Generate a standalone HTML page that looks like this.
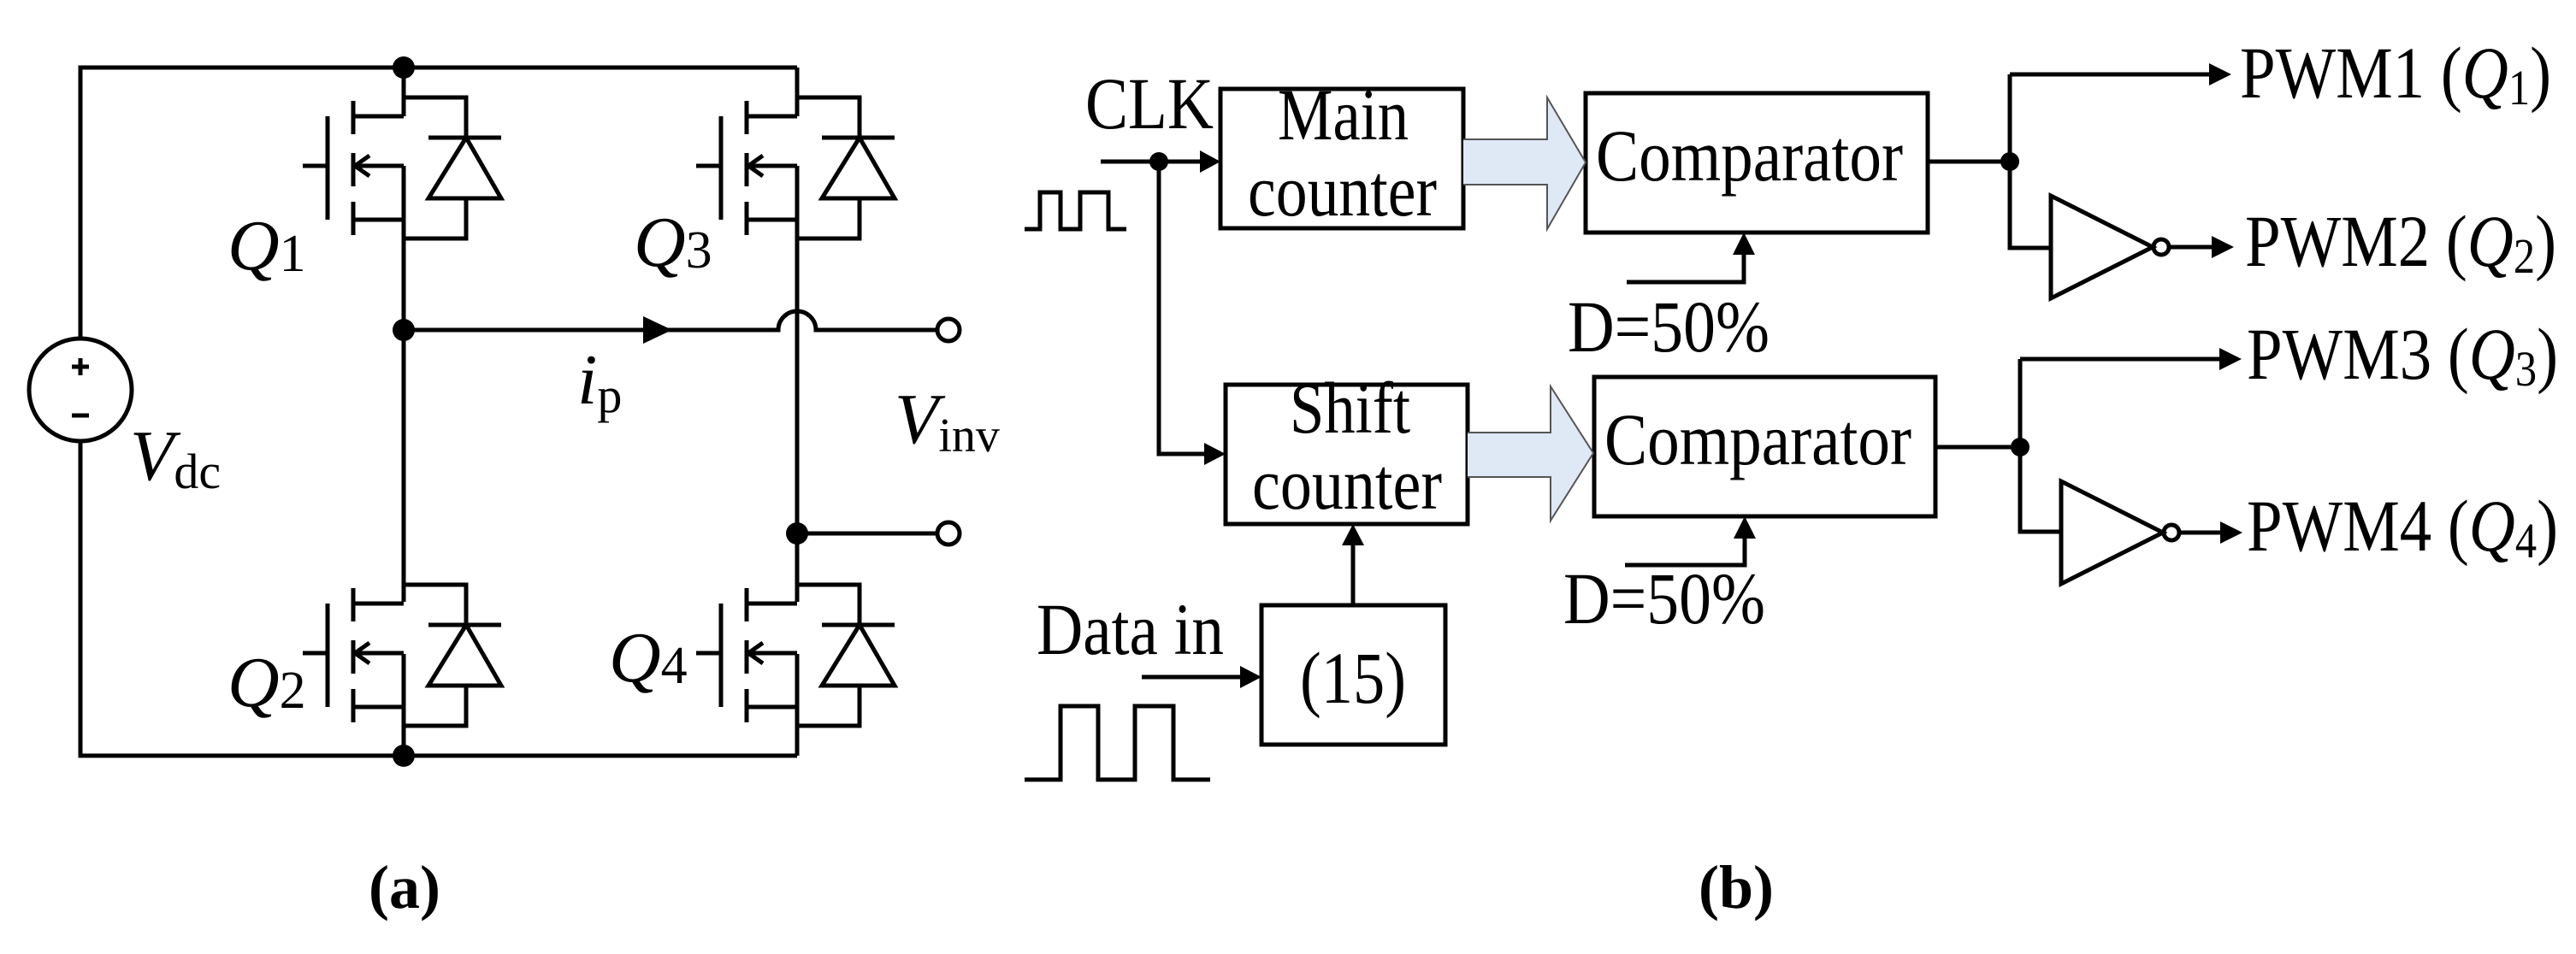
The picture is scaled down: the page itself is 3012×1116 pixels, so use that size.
<!DOCTYPE html>
<html><head><meta charset="utf-8"><style>
html,body{margin:0;padding:0;background:#fff}
svg{display:block}
text{font-family:"Liberation Serif",serif;fill:#000}
</style></head><body>
<svg width="3012" height="1116" viewBox="0 0 3012 1116" xmlns="http://www.w3.org/2000/svg">
<defs>
<g id="tr" fill="none" stroke="#000" stroke-width="5">
  <path d="M472,114 H545 V161 M501,161 H586 M545,232 V279 H472"/>
  <path d="M545,161 L501,232 H586 Z"/>
  <path d="M413,136 H472 M413,194 H472 M413,257 H472"/>
  <path d="M413,118 V157 M413,179 V218 M413,236 V275"/>
  <path d="M383,136 V257 M354,194 H383"/>
  <path d="M432,182 L415,194 L432,206"/>
</g>
</defs>
<g fill="none" stroke="#000" stroke-width="5">
  <path d="M94,396 V79 H932 M94,516 V884 H932"/>
  <circle cx="94" cy="456" r="60"/>
  <path d="M84,429 H104 M94,419 V439 M84,486 H104"/>
  <path d="M472,79 V136 M472,194 V704 M472,765 V884"/>
  <path d="M932,79 V136 M932,194 V704 M932,765 V884"/>
  <path d="M472,386 H910 A22,22 0 0 1 954,386 H1096"/>
  <circle cx="1109" cy="386" r="13"/>
  <path d="M932,624 H1096"/>
  <circle cx="1109" cy="624" r="13"/>
</g>
<path d="M752,370 L786,386 L752,402 Z" fill="#000"/>
<use href="#tr"/>
<use href="#tr" transform="translate(0,570)"/>
<use href="#tr" transform="translate(460,0)"/>
<use href="#tr" transform="translate(460,570)"/>
<g fill="#000">
  <circle cx="472" cy="79" r="13"/><circle cx="472" cy="386" r="13"/>
  <circle cx="472" cy="884" r="13"/><circle cx="932" cy="624" r="13"/>
</g>
<g font-size="84" font-style="italic">
  <text x="266" y="315">Q<tspan font-style="normal" font-size="62" dy="2">1</tspan></text>
  <text x="741" y="311">Q<tspan font-style="normal" font-size="62" dy="2">3</tspan></text>
  <text x="266" y="826">Q<tspan font-style="normal" font-size="62" dy="2">2</tspan></text>
  <text x="712" y="797">Q<tspan font-style="normal" font-size="62" dy="2">4</tspan></text>
  <text x="152" y="561">V<tspan font-style="normal" font-size="58" dy="10">dc</tspan></text>
  <text x="675" y="472">i<tspan font-style="normal" font-size="58" dy="10">p</tspan></text>
  <text x="1046" y="518">V<tspan font-style="normal" font-size="56" dy="10">inv</tspan></text>
</g>
<text x="431" y="1062" font-size="72" font-weight="bold">(a)</text>

<g fill="none" stroke="#000" stroke-width="5">
  <rect x="1427" y="104" width="284" height="163"/>
  <rect x="1854" y="109" width="400" height="163"/>
  <rect x="1433" y="450" width="283" height="163"/>
  <rect x="1864" y="441" width="399" height="163"/>
  <rect x="1475" y="708" width="215" height="163"/>
  <path d="M1287,189 H1405 M1355,189 V531 H1410"/>
  <path d="M1198,268 H1216 V225 H1240 V268 H1263 V225 H1296 V268 H1317"/>
  <path d="M1198,912 H1240 V826 H1284 V912 H1327 V826 H1372 V912 H1415"/>
  <path d="M1335,792 H1452 M1582,708 V636"/>
  <path d="M1902,330 H2039 V296 M1900,661 H2040 V628"/>
  <path d="M2254,189 H2350 M2350,87 V290 H2398 M2350,87 H2585"/>
  <path d="M2398,229 V349 L2517,289 Z"/>
  <circle cx="2527" cy="289" r="9"/>
  <path d="M2536,289 H2588"/>
  <path d="M2263,523 H2362 M2362,420 V622 H2410 M2362,420 H2597"/>
  <path d="M2410,563 V683 L2529,623 Z"/>
  <circle cx="2539" cy="623" r="9"/>
  <path d="M2548,623 H2598"/>
</g>
<g fill="#dfe8f5" stroke="#555" stroke-width="2">
  <path d="M1711,163 H1809 V114 L1854,190 L1809,268 V216 H1711"/>
  <path d="M1716,506 H1813 V452 L1863,530 L1813,609 V558 H1716"/>
</g>
<g fill="#000">
  <circle cx="1355" cy="189" r="11"/>
  <circle cx="2350" cy="189" r="11"/>
  <circle cx="2362" cy="523" r="11"/>
  <path d="M1403,176 L1427,189 L1403,202 Z"/>
  <path d="M1408,518 L1433,531 L1408,544 Z"/>
  <path d="M1450,779 L1475,792 L1450,805 Z"/>
  <path d="M1569,638 L1582,613 L1595,638 Z"/>
  <path d="M2026,298 L2039,272 L2052,298 Z"/>
  <path d="M2027,630 L2040,604 L2053,630 Z"/>
  <path d="M2583,74 L2609,87 L2583,100 Z"/>
  <path d="M2586,276 L2612,289 L2586,302 Z"/>
  <path d="M2595,407 L2621,420 L2595,433 Z"/>
  <path d="M2596,610 L2622,623 L2596,636 Z"/>
</g>
<g font-size="86">
  <text x="1494" y="163" textLength="153" lengthAdjust="spacingAndGlyphs">Main</text>
  <text x="1459" y="252" textLength="221" lengthAdjust="spacingAndGlyphs">counter</text>
  <text x="1866" y="211" textLength="359" lengthAdjust="spacingAndGlyphs">Comparator</text>
  <text x="1508" y="506" textLength="141" lengthAdjust="spacingAndGlyphs">Shift</text>
  <text x="1464" y="595" textLength="222" lengthAdjust="spacingAndGlyphs">counter</text>
  <text x="1876" y="543" textLength="359" lengthAdjust="spacingAndGlyphs">Comparator</text>
  <text x="1520" y="822" textLength="124" lengthAdjust="spacingAndGlyphs">(15)</text>
  <text x="1269" y="150" textLength="150" lengthAdjust="spacingAndGlyphs">CLK</text>
  <text x="1212" y="765" textLength="219" lengthAdjust="spacingAndGlyphs">Data in</text>
  <text x="1833" y="411" textLength="236" lengthAdjust="spacingAndGlyphs">D=50%</text>
  <text x="1828" y="729" textLength="236" lengthAdjust="spacingAndGlyphs">D=50%</text>
  <text x="2619" y="114" textLength="364" lengthAdjust="spacingAndGlyphs">PWM1 (<tspan font-style="italic">Q</tspan><tspan font-size="58" dy="8">1</tspan><tspan dy="-8">)</tspan></text>
  <text x="2625" y="311" textLength="364" lengthAdjust="spacingAndGlyphs">PWM2 (<tspan font-style="italic">Q</tspan><tspan font-size="58" dy="8">2</tspan><tspan dy="-8">)</tspan></text>
  <text x="2627" y="443" textLength="364" lengthAdjust="spacingAndGlyphs">PWM3 (<tspan font-style="italic">Q</tspan><tspan font-size="58" dy="8">3</tspan><tspan dy="-8">)</tspan></text>
  <text x="2627" y="644" textLength="364" lengthAdjust="spacingAndGlyphs">PWM4 (<tspan font-style="italic">Q</tspan><tspan font-size="58" dy="8">4</tspan><tspan dy="-8">)</tspan></text>
</g>
<text x="1986" y="1062" font-size="72" font-weight="bold">(b)</text>
</svg>
</body></html>
